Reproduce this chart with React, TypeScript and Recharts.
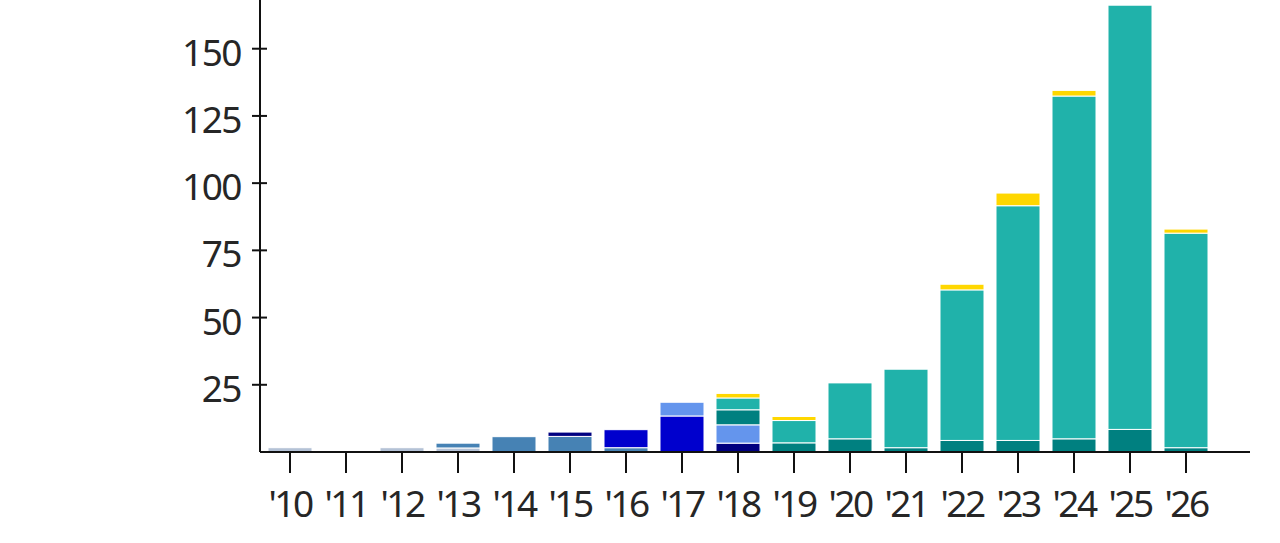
import { Bar, BarChart, XAxis, YAxis } from "recharts";

const years = ["'10", "'11", "'12", "'13", "'14", "'15", "'16", "'17", "'18", "'19", "'20", "'21", "'22", "'23", "'24", "'25", "'26"];

const lightSteel = [1.6, 0, 1.6, 1.5, 0, 0, 0, 0, 0, 0, 0, 0, 0, 0, 0, 0, 0];
const steel = [0, 0, 0, 1.8, 5.7, 5.8, 1.6, 0, 0, 0, 0, 0, 0, 0, 0, 0, 0];
const navy = [0, 0, 0, 0, 0, 1.6, 0, 0, 3.3, 0, 0, 0, 0, 0, 0, 0, 0];
const medium = [0, 0, 0, 0, 0, 0, 6.7, 13.4, 0, 0, 0, 0, 0, 0, 0, 0, 0];
const cornflower = [0, 0, 0, 0, 0, 0, 0, 5.1, 6.8, 0, 0, 0, 0, 0, 0, 0, 0];
const teal = [0, 0, 0, 0, 0, 0, 0, 0, 5.6, 3.4, 4.9, 1.6, 4.3, 4.3, 4.9, 8.4, 1.6];
const seaGreen = [0, 0, 0, 0, 0, 0, 0, 0, 4.4, 8.3, 20.8, 29.2, 56.0, 87.3, 127.5, 157.8, 79.8];
const gold = [0, 0, 0, 0, 0, 0, 0, 0, 1.7, 1.5, 0, 0, 2.1, 4.7, 2.1, 0, 1.5];

const yTicks = [25, 50, 75, 100, 125, 150, 175];

const series = [
  { key: "lightSteel", values: lightSteel, color: "#b4c2d6" },
  { key: "steel", values: steel, color: "#4682b4" },
  { key: "navy", values: navy, color: "#000080" },
  { key: "medium", values: medium, color: "#0000cd" },
  { key: "cornflower", values: cornflower, color: "#6495ed" },
  { key: "teal", values: teal, color: "#008080" },
  { key: "seaGreen", values: seaGreen, color: "#20b2aa" },
  { key: "gold", values: gold, color: "#ffd700" },
];

const data = years.map((year, i) => {
  const row: Record<string, string | number> = { year };
  series.forEach((s) => {
    row[s.key] = s.values[i];
  });
  return row;
});

const font = { fontFamily: "'Noto Sans', sans-serif", fontSize: 37, fill: "#262626" };

function YTick({ x, y, payload }: any) {
  return (
    <g>
      <line x1={x - 8} x2={x + 7} y1={y} y2={y} stroke="#111" strokeWidth={2} />
      <text x={x - 19} y={y + 17} textAnchor="end" letterSpacing={-1.5} {...font}>
        {payload.value}
      </text>
    </g>
  );
}

function XTick({ x, y, payload }: any) {
  return (
    <g>
      <line x1={x} x2={x} y1={y} y2={y + 21} stroke="#111" strokeWidth={2} />
      <text x={x} y={y + 65} textAnchor="middle" letterSpacing={-2.5} {...font}>
        {payload.value}
      </text>
    </g>
  );
}

export default function App() {
  return (
    <div style={{ position: "absolute", left: 0, top: -60, width: 1280, height: 600 }}>
      <BarChart width={1280} height={600} data={data} margin={{ top: 41.5, right: 30, bottom: 0, left: 0 }} barSize={44}>
        <XAxis
          dataKey="year"
          height={88}
          interval={0}
          padding={{ left: 2, right: 36 }}
          axisLine={{ stroke: "#111", strokeWidth: 2 }}
          tickLine={false}
          tickSize={0}
          tickMargin={0}
          tick={<XTick />}
        />
        <YAxis
          width={260}
          domain={[0, 175]}
          ticks={yTicks}
          interval={0}
          axisLine={{ stroke: "#111", strokeWidth: 2 }}
          tickLine={false}
          tickSize={0}
          tickMargin={0}
          tick={<YTick />}
        />
        {series.map((s) => (
          <Bar key={s.key} dataKey={s.key} stackId="a" fill={s.color} stroke="#fff" strokeWidth={1} isAnimationActive={false} />
        ))}
      </BarChart>
    </div>
  );
}
